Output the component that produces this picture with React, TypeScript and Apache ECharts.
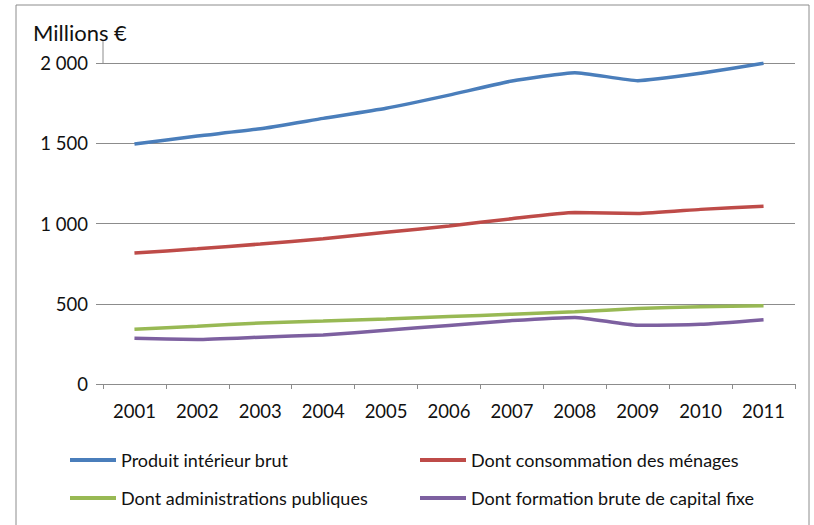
import React, { useEffect, useRef } from "react";
import * as echarts from "echarts";

const years = ["2001", "2002", "2003", "2004", "2005", "2006", "2007", "2008", "2009", "2010", "2011"];
const pib = [1495, 1545, 1590, 1655, 1718, 1800, 1888, 1940, 1890, 1936, 1998];
const conso = [816, 842, 872, 905, 945, 985, 1030, 1068, 1062, 1088, 1108];
const admin = [341, 360, 380, 392, 405, 420, 435, 450, 470, 482, 488];
const fbcf = [285, 278, 292, 306, 335, 365, 395, 415, 366, 372, 401];
const seriesNames = [
  "Produit intérieur brut",
  "Dont consommation des ménages",
  "Dont administrations publiques",
  "Dont formation brute de capital fixe",
];
const colors = ["#4a7ebb", "#be4b48", "#98b954", "#7d60a0"];

const FONT = "Lato, 'Open Sans', sans-serif";

function fmt(v: number) {
  if (v >= 1000) {
    const s = String(v);
    return s.slice(0, s.length - 3) + " " + s.slice(s.length - 3);
  }
  return String(v);
}

export default function App() {
  const ref = useRef<HTMLDivElement>(null);
  useEffect(() => {
    if (!ref.current) return;
    const chart = echarts.init(ref.current, null, { renderer: "svg" });
    const data = [pib, conso, admin, fbcf];
    const legendPos = [
      { left: 70, top: 451 },
      { left: 420, top: 451 },
      { left: 70, top: 489 },
      { left: 420, top: 489 },
    ];
    chart.setOption({
      animation: false,
      backgroundColor: "#fff",
      title: {
        text: "Millions €",
        left: 28,
        top: 16,
        textStyle: { fontFamily: FONT, fontSize: 22, fontWeight: "normal", color: "#111" },
      },
      graphic: [
        {
          type: "rect",
          shape: { x: 16, y: 5, width: 793, height: 540 },
          style: { fill: "none", stroke: "#8c8c8c", lineWidth: 1 },
          silent: true,
        },
        {
          type: "line",
          shape: { x1: 103, y1: 40, x2: 103, y2: 63 },
          style: { stroke: "#8c8c8c", lineWidth: 1 },
          silent: true,
        },
      ],
      legend: legendPos.map((p, i) => ({
        data: [seriesNames[i]],
        left: p.left,
        top: p.top,
        padding: 0,
        icon: "rect",
        itemWidth: 46,
        itemHeight: 4,
        textStyle: { fontFamily: FONT, fontSize: 18, color: "#111" },
      })),
      grid: { left: 103, right: 19, top: 63, bottom: 141 },
      xAxis: {
        type: "category",
        data: years,
        boundaryGap: true,
        axisLine: { lineStyle: { color: "#8c8c8c" } },
        axisTick: { show: true, length: 5, lineStyle: { color: "#8c8c8c" } },
        axisLabel: { fontFamily: FONT, fontSize: 18.5, color: "#111", margin: 17 },
      },
      yAxis: {
        type: "value",
        min: 0,
        max: 2000,
        interval: 500,
        axisLine: { show: false },
        axisTick: { show: true, length: 7, lineStyle: { color: "#8c8c8c" } },
        splitLine: { lineStyle: { color: "#8c8c8c" } },
        axisLabel: {
          fontFamily: FONT,
          fontSize: 18.5,
          color: "#111",
          margin: 15,
          formatter: (v: number) => fmt(v),
        },
      },
      series: data.map((d, i) => ({
        name: seriesNames[i],
        type: "line",
        data: d,
        smooth: 0.15,
        showSymbol: false,
        symbol: "none",
        lineStyle: { width: 3.5, color: colors[i] },
        itemStyle: { color: colors[i] },
        z: 10 - i,
      })),
    });
    return () => chart.dispose();
  }, []);
  return <div ref={ref} style={{ width: 814, height: 525, position: "absolute", left: 0, top: 0 }} />;
}
